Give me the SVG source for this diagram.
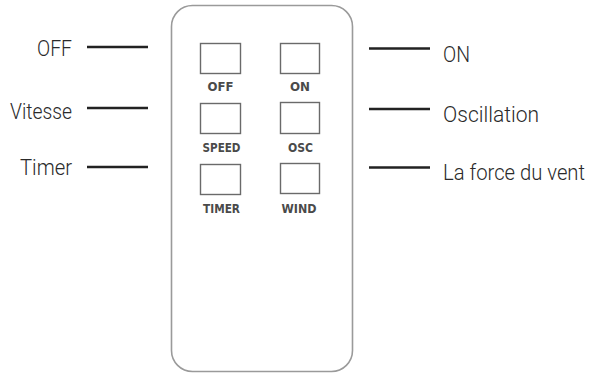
<svg xmlns="http://www.w3.org/2000/svg" width="597" height="373" viewBox="0 0 597 373">
<style>
.body{fill:#fff;stroke:#9a9a9a;stroke-width:1.6}
.btn{fill:#fff;stroke:#6a6a6a;stroke-width:1.4}
.bl{font-family:"DejaVu Sans Condensed","Liberation Sans",sans-serif;font-size:11.5px;font-weight:bold;fill:#4a4a4a;text-anchor:middle}
.lbl{font-family:Roboto,"Liberation Sans",sans-serif;font-size:22px;font-weight:300;fill:#2a2a2a}
.l{text-anchor:end}
.ln{stroke:#222;stroke-width:2.6}
</style>
<rect width="597" height="373" fill="#fff"/>
<g id="remote">
<rect class="body" x="171.5" y="5.5" width="181" height="366" rx="21"/>
</g>
<g id="btn-off"><rect class="btn" x="200.5" y="43.5" width="40" height="30"/><text class="bl" x="220.5" y="91" textLength="26" lengthAdjust="spacingAndGlyphs">OFF</text></g>
<g id="btn-on"><rect class="btn" x="280.5" y="43.5" width="39" height="30"/><text class="bl" x="300" y="91" textLength="20" lengthAdjust="spacingAndGlyphs">ON</text></g>
<g id="btn-speed"><rect class="btn" x="200.5" y="103.5" width="40" height="30"/><text class="bl" x="221.5" y="152" textLength="38" lengthAdjust="spacingAndGlyphs">SPEED</text></g>
<g id="btn-osc"><rect class="btn" x="280.5" y="102.5" width="39" height="31"/><text class="bl" x="300.5" y="152" textLength="25" lengthAdjust="spacingAndGlyphs">OSC</text></g>
<g id="btn-timer"><rect class="btn" x="200.5" y="164.5" width="40" height="30"/><text class="bl" x="221.5" y="212.5" textLength="37" lengthAdjust="spacingAndGlyphs">TIMER</text></g>
<g id="btn-wind"><rect class="btn" x="280.5" y="163.5" width="39" height="30"/><text class="bl" x="299" y="212.5" textLength="35" lengthAdjust="spacingAndGlyphs">WIND</text></g>
<g id="connectors">
<line class="ln" x1="87" y1="47" x2="148" y2="47"/>
<line class="ln" x1="87" y1="108" x2="148" y2="108"/>
<line class="ln" x1="87" y1="167" x2="148" y2="167"/>
<line class="ln" x1="369" y1="48.5" x2="430" y2="48.5"/>
<line class="ln" x1="369" y1="109" x2="430" y2="109"/>
<line class="ln" x1="369" y1="167.5" x2="430" y2="167.5"/>
</g>
<g id="label-off"><text class="lbl l" x="72" y="56" textLength="35" lengthAdjust="spacingAndGlyphs">OFF</text></g>
<g id="label-vitesse"><text class="lbl l" x="72" y="119" textLength="62" lengthAdjust="spacingAndGlyphs">Vitesse</text></g>
<g id="label-timer"><text class="lbl l" x="72" y="175" textLength="52" lengthAdjust="spacingAndGlyphs">Timer</text></g>
<g id="label-on"><text class="lbl" x="443" y="62" textLength="27" lengthAdjust="spacingAndGlyphs">ON</text></g>
<g id="label-oscillation"><text class="lbl" x="443" y="122" textLength="96" lengthAdjust="spacingAndGlyphs">Oscillation</text></g>
<g id="label-force"><text class="lbl" x="443" y="180" textLength="142" lengthAdjust="spacingAndGlyphs">La force du vent</text></g>
</svg>
